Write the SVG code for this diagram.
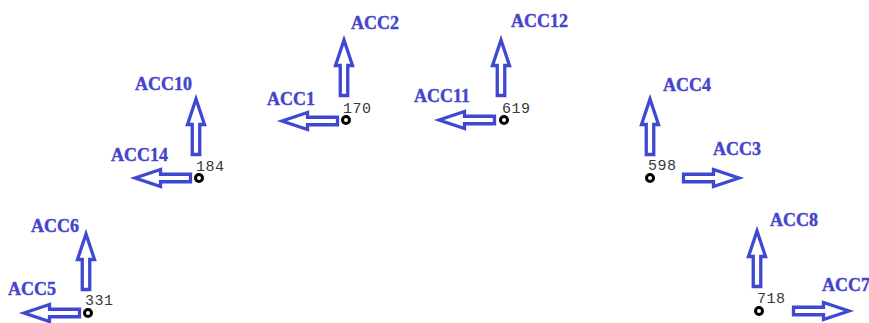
<svg xmlns="http://www.w3.org/2000/svg" xmlns:xlink="http://www.w3.org/1999/xlink" width="869" height="323" viewBox="0 0 869 323">
<style>
.arr{fill:#ffffff;stroke:#3f48d0;stroke-width:3.3;stroke-linejoin:miter}
.lbl{font-family:"Liberation Serif","DejaVu Serif",serif;font-weight:bold;font-size:18px;fill:#4444cc;stroke:#4444cc;stroke-width:0.4}
.num{font-family:"Liberation Mono","DejaVu Sans Mono",monospace;font-size:15px;fill:#3a3a3a;letter-spacing:0.5px}
.pt{fill:#ffffff;stroke:#000000;stroke-width:3}
</style>
<defs>
<path id="arrow" d="M0,5 L8.5,30.5 L3.75,30.5 L3.75,60.5 L-3.75,60.5 L-3.75,30.5 L-8.5,30.5 Z"/>
</defs>
<rect width="869" height="323" fill="#ffffff"/>
<g id="connectors">
<use xlink:href="#arrow" class="arr" transform="translate(344,35)"/>
<use xlink:href="#arrow" class="arr" transform="translate(277,121) rotate(-90)"/>
<use xlink:href="#arrow" class="arr" transform="translate(501,35)"/>
<use xlink:href="#arrow" class="arr" transform="translate(434,120) rotate(-90)"/>
<use xlink:href="#arrow" class="arr" transform="translate(196,94)"/>
<use xlink:href="#arrow" class="arr" transform="translate(130,178) rotate(-90)"/>
<use xlink:href="#arrow" class="arr" transform="translate(650,94)"/>
<use xlink:href="#arrow" class="arr" transform="translate(744,178) rotate(90)"/>
<use xlink:href="#arrow" class="arr" transform="translate(86,229)"/>
<use xlink:href="#arrow" class="arr" transform="translate(19,313) rotate(-90)"/>
<use xlink:href="#arrow" class="arr" transform="translate(757,226)"/>
<use xlink:href="#arrow" class="arr" transform="translate(854,311) rotate(90)"/>
</g>
<g id="n170">
<circle class="pt" cx="346" cy="120" r="3.5"/>
<text class="num" x="343" y="113">170</text>
<text class="lbl" x="351" y="29">ACC2</text>
<text class="lbl" x="267" y="105">ACC1</text>
</g>
<g id="n619">
<circle class="pt" cx="504" cy="120" r="3.5"/>
<text class="num" x="502" y="113">619</text>
<text class="lbl" x="511" y="27">ACC12</text>
<text class="lbl" x="414" y="102">ACC11</text>
</g>
<g id="n184">
<circle class="pt" cx="199" cy="178" r="3.5"/>
<text class="num" x="196" y="171">184</text>
<text class="lbl" x="135" y="90">ACC10</text>
<text class="lbl" x="111" y="161">ACC14</text>
</g>
<g id="n598">
<circle class="pt" cx="650" cy="178" r="3.5"/>
<text class="num" x="648" y="170">598</text>
<text class="lbl" x="663" y="91">ACC4</text>
<text class="lbl" x="713" y="155">ACC3</text>
</g>
<g id="n331">
<circle class="pt" cx="88" cy="313" r="3.5"/>
<text class="num" x="85" y="305">331</text>
<text class="lbl" x="31" y="232">ACC6</text>
<text class="lbl" x="8" y="295">ACC5</text>
</g>
<g id="n718">
<circle class="pt" cx="759" cy="311" r="3.5"/>
<text class="num" x="757" y="303">718</text>
<text class="lbl" x="770" y="226">ACC8</text>
<text class="lbl" x="822" y="291">ACC7</text>
</g>
</svg>
